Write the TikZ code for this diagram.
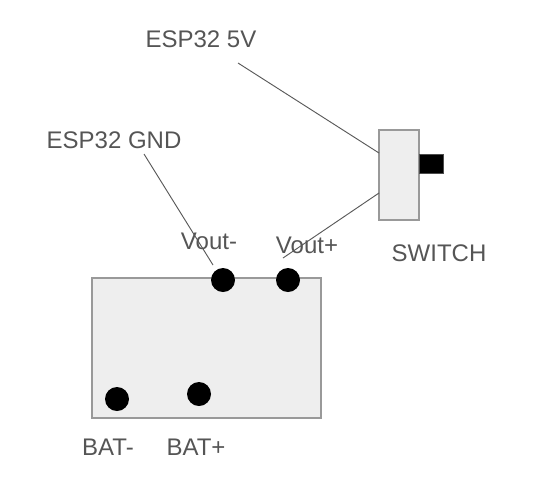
\documentclass[tikz,border=0pt]{standalone}
\usepackage{fontspec}
\setmainfont{Liberation Sans}
\usetikzlibrary{positioning}
\definecolor{boardfill}{HTML}{EEEEEE}
\definecolor{boardline}{HTML}{999999}
\definecolor{labelcol}{HTML}{555555}
\definecolor{wirecol}{HTML}{595959}
\begin{document}
\begin{tikzpicture} [x=0.75pt, y=-0.75pt,
    board/.style={draw=boardline,fill=boardfill,line width=1.1pt,inner sep=0pt,outer sep=0pt,anchor=north west},
    pin/.style={circle,fill=black,inner sep=0pt,minimum size=18pt},
    lbl/.style={text=labelcol,font=\fontsize{18}{21}\selectfont,inner sep=0pt},
    wire/.style={draw=wirecol,line width=0.7pt}
    ]
    \useasboundingbox (0,0) rectangle (535,497);
    % boards
    \node (main) [board,minimum width=171.75pt,minimum height=105pt] at (92,278) {};
    \node (switch) [board,minimum width=30pt,minimum height=67.5pt] at (379,130) {};
    \node (knob) [draw=black!70,fill=black,line width=0.4pt,inner sep=0pt,outer sep=0pt,anchor=north west,
      minimum width=18pt,minimum height=14.25pt] at (419,154) {};
    % pins
    \node (voutm) [pin] at (223,280) {};
    \node (voutp) [pin] at (288,280) {};
    \node (batm) [pin] at (117,399) {};
    \node (batp) [pin] at (199,394) {};
    % labels
    \node (esp5v) [lbl] at (201,39) {ESP32 5V};
    \node (espgnd) [lbl] at (114,140) {ESP32 GND};
    \node (lvoutm) [lbl] at (209,241) {Vout-};
    \node (lvoutp) [lbl] at (307,245) {Vout+};
    \node (lswitch) [lbl] at (439,253) {SWITCH};
    \node (lbatm) [lbl] at (108,447) {BAT-};
    \node (lbatp) [lbl] at (196,447) {BAT+};
    % wires
    \coordinate (w1a) at (238,63);
    \coordinate (w1b) at (379,153);
    \coordinate (w2a) at (144,154);
    \coordinate (w2b) at (213,265);
    \coordinate (w3a) at (283,258);
    \coordinate (w3b) at (379,193);
    \path[wire]
      (w1a) edge (w1b)
      (w2a) edge (w2b)
      (w3a) edge (w3b)
      ;
\end{tikzpicture}
\end{document}
